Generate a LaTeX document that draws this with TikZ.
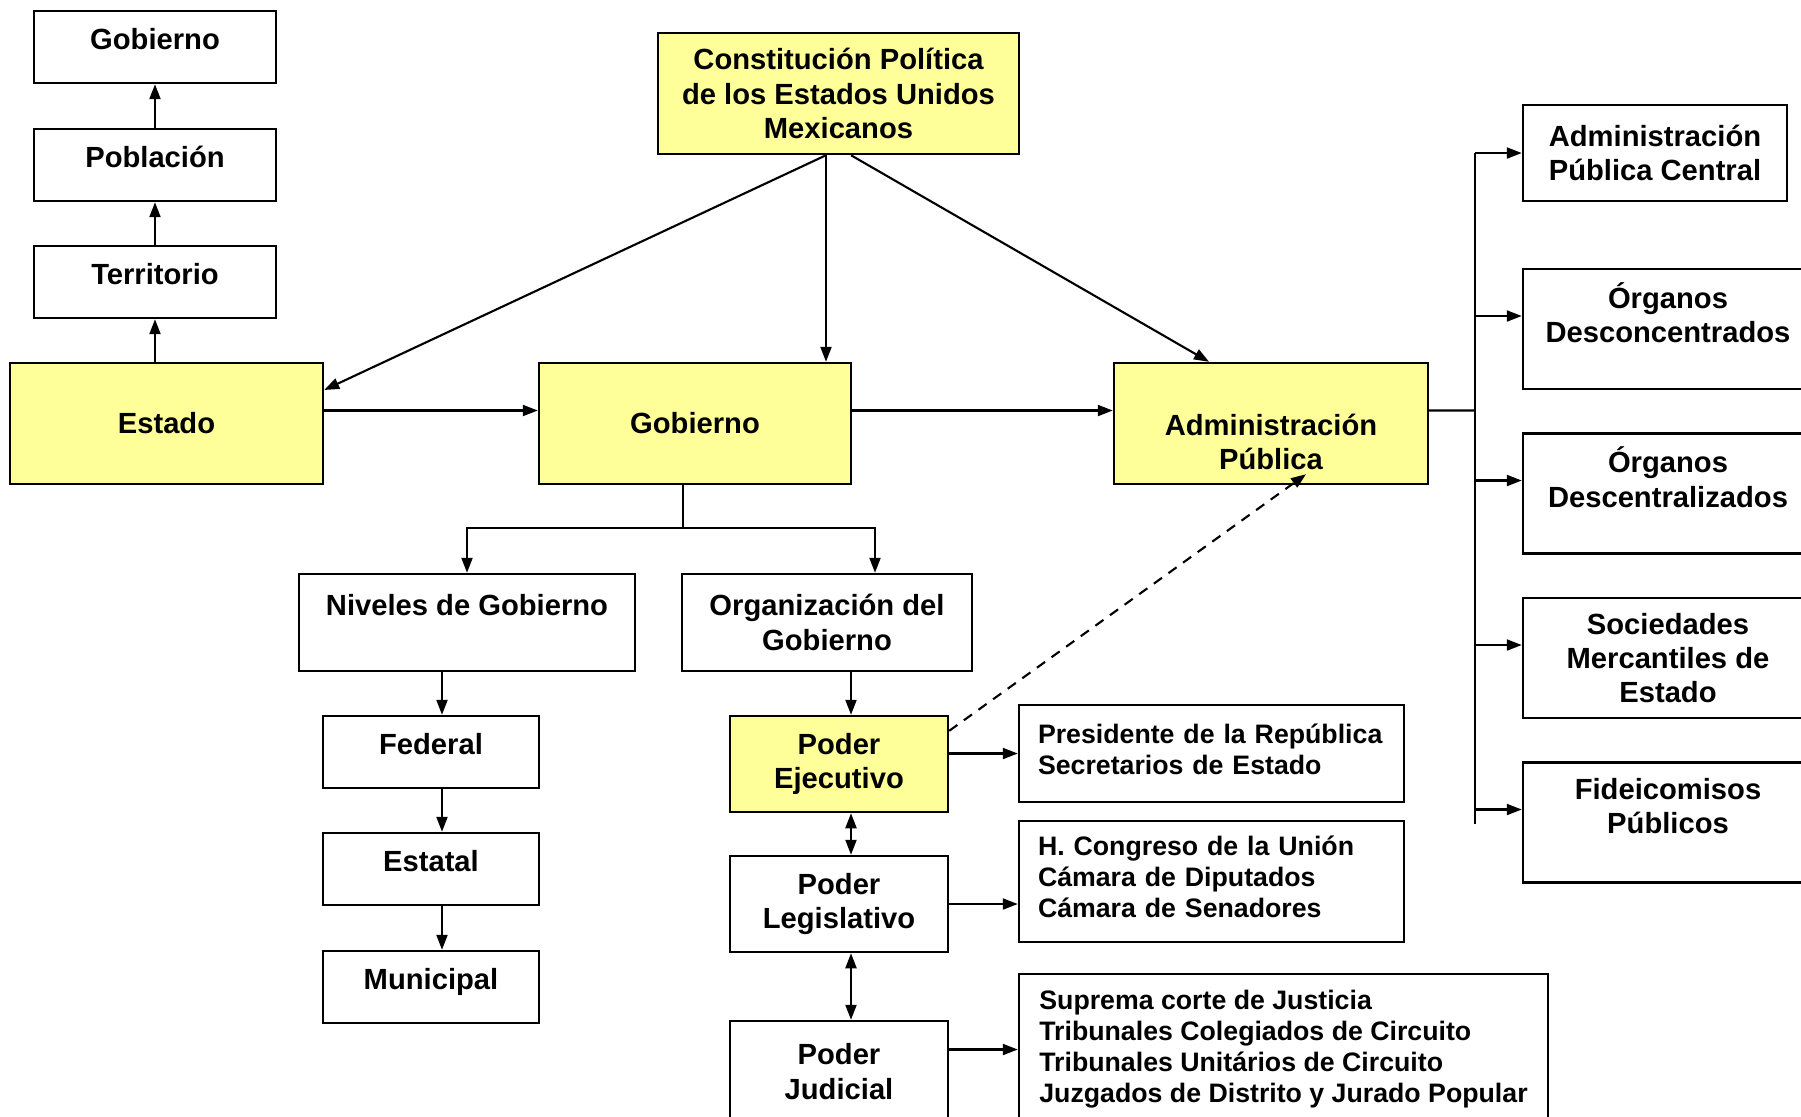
\documentclass[tikz,border=0pt]{standalone}
\usepackage{fontspec}
\setmainfont{Liberation Sans}
\usetikzlibrary{arrows.meta}
\definecolor{amarillo}{HTML}{FFFF99}

\begin{document}
\begin{tikzpicture}[
    caja/.style 2 args={draw, line width=.7pt, minimum width=#1cm, minimum height=#2cm,
        inner sep=0pt, align=center, font=\fontsize{8.3}{9.8}\selectfont\bfseries},
    amar/.style={fill=amarillo},
    alto/.style={text height=.21cm, text depth=.16cm},
    chica/.style={font=\fontsize{7.6}{8.8}\selectfont\bfseries},
    flecha/.style={line width=.6pt, -{Triangle[length=1.5mm,width=1.1mm]}},
    flechas/.style={line width=.6pt, {Triangle[length=1.5mm,width=1.1mm]}-{Triangle[length=1.5mm,width=1.1mm]}}]
    \useasboundingbox (0,0) rectangle (18.01,-11.16);
    % elementos del Estado
    \node[caja={2.42}{.72}, alto] (gob0) at (1.55,-.47) {Gobierno};
    \node[caja={2.42}{.72}, alto] (pob) at (1.55,-1.65) {Población};
    \node[caja={2.42}{.72}, alto] (terr) at (1.55,-2.82) {Territorio};
    \node[caja={3.13}{1.21}, amar] (estado) at (1.665,-4.235) {Estado};
    \node[caja={3.61}{1.21}, amar] (const) at (8.385,-.935) {Constitución Política\\de los Estados Unidos\\Mexicanos};
    \node[caja={3.12}{1.21}, amar] (gob) at (6.95,-4.235) {Gobierno};
    \node[caja={3.14}{1.21}, amar] (admin) at (12.71,-4.235) {\strut\\Administración\\Pública};
    % niveles y organizacion
    \node[caja={3.36}{.97}] (niveles) at (4.67,-6.225) {Niveles de Gobierno\\[-3pt]\strut};
    \node[caja={2.90}{.97}] (org) at (8.27,-6.225) {Organización del\\Gobierno};
    \node[caja={2.16}{.72}, alto] (federal) at (4.31,-7.52) {Federal};
    \node[caja={2.16}{.72}, alto] (estatal) at (4.31,-8.69) {Estatal};
    \node[caja={2.16}{.72}, alto] (municipal) at (4.31,-9.87) {Municipal};
    % poderes
    \node[caja={2.18}{.96}, amar] (ejec) at (8.39,-7.64) {Poder\\Ejecutivo};
    \node[caja={2.18}{.96}] (legis) at (8.39,-9.04) {Poder\\Legislativo};
    \node[caja={2.18}{1.01}] (judic) at (8.39,-10.715) {Poder\\Judicial};
    \node[caja={3.85}{.97}, chica, align=left, text width=3.47cm] (pres) at (12.115,-7.535)
        {Presidente de la República\\Secretarios de Estado\strut};
    \node[caja={3.85}{1.21}, chica, align=left, text width=3.47cm] (cong) at (12.115,-8.815)
        {H. Congreso de la Unión\\Cámara de Diputados\\Cámara de Senadores\strut};
    \node[caja={5.29}{1.51}, chica, align=left] (supr) at (12.835,-10.495)
        {Suprema corte de Justicia\\Tribunales Colegiados de Circuito\\Tribunales Unitários de Circuito\\Juzgados de Distrito y Jurado Popular};
    % administracion publica
    \node[caja={2.64}{.96}] (apc) at (16.55,-1.53) {Administración\\Pública Central};
    \node[caja={2.90}{1.20}] (od) at (16.68,-3.29) {Órganos\\Desconcentrados\\[-3.4pt]\strut};
    \node[caja={2.90}{1.20}] (odes) at (16.68,-4.935) {Órganos\\Descentralizados\\[-3.4pt]\strut};
    \node[caja={2.90}{1.20}] (soc) at (16.68,-6.58) {Sociedades\\Mercantiles de\\Estado};
    \node[caja={2.90}{1.20}] (fid) at (16.68,-8.225) {Fideicomisos\\Públicos\\[-3.4pt]\strut};

    \draw[flecha] (estado.north -| terr) -- (terr.south);
    \draw[flecha] (terr.north) -- (pob.south);
    \draw[flecha] (pob.north) -- (gob0.south);

    \coordinate (csal) at ([xshift=-1.25mm]const.south);
    \coordinate (csal2) at ([xshift=1.25mm]const.south);
    \draw[flecha] (csal) -- (estado.12);
    \draw[flecha] (csal) -- (csal |- gob.north);
    \draw[flecha] (csal2) -- ([xshift=-6.2mm]admin.north);
    \draw[flecha] ([yshift=1.3mm]estado.east) -- ([yshift=1.3mm]gob.west);
    \draw[flecha] ([yshift=1.3mm]gob.east) -- ([yshift=1.3mm]admin.west);

    \coordinate (bus) at (14.75,-4.105);
    \coordinate (busfin) at (14.75,-8.24);
    \draw[line width=.6pt] ([yshift=1.3mm]admin.east) -- (bus);
    \draw[line width=.6pt] (bus |- apc.west) -- (busfin);
    \draw[flecha] (bus |- apc.west) -- (apc.west);
    \foreach \n in {od,odes,soc,fid}
        \draw[flecha] ([yshift=1.3mm]\n.west -| bus) -- ([yshift=1.3mm]\n.west);

    \coordinate (rama) at (6.83,-5.28);
    \draw[line width=.6pt] (gob.south -| rama) -- (rama);
    \draw[flecha] (rama) -| (niveles.north);
    \draw[flecha] (rama) -| ([xshift=4.8mm]org.north);
    \foreach \a/\b in {niveles/federal,federal/estatal,estatal/municipal}
        \draw[flecha] ([xshift=1.1mm]\b.north |- \a.south) -- ([xshift=1.1mm]\b.north);

    \draw[flecha] ([xshift=1.2mm]ejec.north |- org.south) -- ([xshift=1.2mm]ejec.north);
    \draw[flechas] ([xshift=1.2mm]ejec.south) -- ([xshift=1.2mm]legis.north);
    \draw[flechas] ([xshift=1.2mm]legis.south) -- ([xshift=1.2mm]judic.north);
    \draw[flecha] (ejec.east |- pres.west) -- (pres.west);
    \draw[flecha] (legis.east) -- (legis.east -| cong.west);
    \draw[flecha] (judic.east |- supr.west) -- (supr.west);
    \draw[flecha, dash pattern=on 1mm off .8mm] ([yshift=-1.6mm]ejec.north east) -- ([xshift=3.5mm,yshift=1.1mm]admin.south);
\end{tikzpicture}
\end{document}
